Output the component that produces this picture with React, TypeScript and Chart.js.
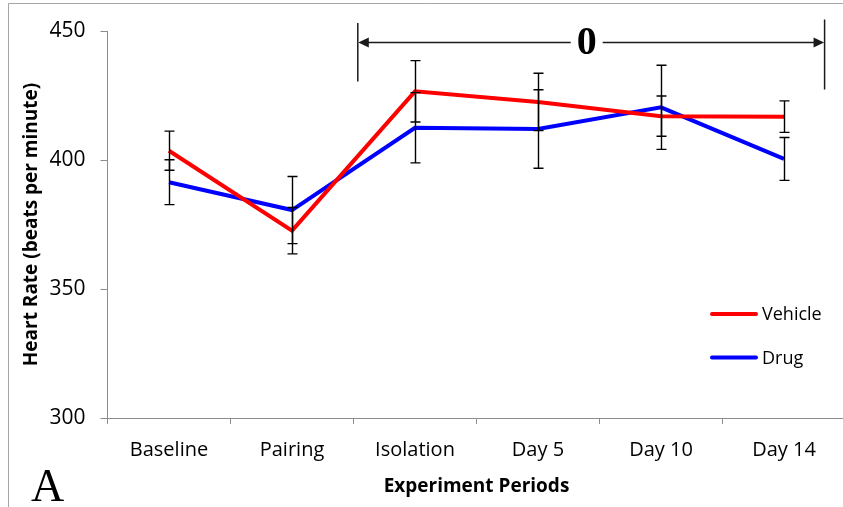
import { useEffect, useRef } from "react";
import { Chart, registerables } from "chart.js";

Chart.register(...registerables);

// ---- data ----
const categories = ["Baseline", "Pairing", "Isolation", "Day 5", "Day 10", "Day 14"];
const vehicleValues = [403.6, 372.6, 426.6, 422.5, 417.0, 416.8];
const drugValues = [391.4, 380.6, 412.5, 412.0, 420.4, 400.4];
const vehicleErrors = [7.6, 9.0, 11.9, 11.1, 7.8, 6.1];
const drugErrors = [8.7, 13.0, 13.6, 15.2, 16.3, 8.3];
const yMin = 300;
const yMax = 450;
const yStep = 50;
const seriesNames = ["Vehicle", "Drug"];
const yAxisTitle = "Heart Rate (beats per minute)";
const xAxisTitle = "Experiment Periods";
const bracketLabel = "0";
const panelLabel = "A";
// bracket spans (category index units) and height (value units)
const bracketStart = 1.535;
const bracketEnd = 5.33;
const bracketLabelAt = 3.396;
const bracketValue = 445.7;

const SANS = "'Open Sans', 'Noto Sans', sans-serif";
const SERIF = "'Liberation Serif', 'DejaVu Serif', serif";
const AXIS_GRAY = "#8c8c8c";

const errorBarPlugin = {
  id: "errorBars",
  afterDatasetsDraw(chart: any) {
    const { ctx } = chart;
    const xs = chart.scales.x;
    const ys = chart.scales.y;
    ctx.save();
    ctx.strokeStyle = "#000";
    ctx.lineWidth = 1.4;
    chart.data.datasets.forEach((ds: any) => {
      const errs: number[] = ds.errors || [];
      ds.data.forEach((v: number, i: number) => {
        const e = errs[i];
        if (e == null) return;
        const x = Math.round(xs.getPixelForValue(i)) + 0.5;
        const yt = ys.getPixelForValue(v + e);
        const yb = ys.getPixelForValue(v - e);
        ctx.beginPath();
        ctx.moveTo(x, yt);
        ctx.lineTo(x, yb);
        ctx.moveTo(x - 5, yt);
        ctx.lineTo(x + 5, yt);
        ctx.moveTo(x - 5, yb);
        ctx.lineTo(x + 5, yb);
        ctx.stroke();
      });
    });
    ctx.restore();
  },
};

const decorPlugin = {
  id: "decor",
  beforeDraw(chart: any) {
    const { ctx, width, height } = chart;
    ctx.save();
    ctx.fillStyle = "#fff";
    ctx.fillRect(0, 0, width, height);
    ctx.strokeStyle = "#a6a6a6";
    ctx.lineWidth = 1;
    ctx.beginPath();
    ctx.moveTo(8.5, height);
    ctx.lineTo(8.5, 3.5);
    ctx.lineTo(width, 3.5);
    ctx.stroke();
    ctx.restore();
  },
  afterDraw(chart: any) {
    const { ctx } = chart;
    const xs = chart.scales.x;
    const ys = chart.scales.y;
    ctx.save();

    // bracket with arrows and label
    const x1 = xs.getPixelForValue(bracketStart);
    const x2 = xs.getPixelForValue(bracketEnd);
    const xl = xs.getPixelForValue(bracketLabelAt);
    const y = Math.round(ys.getPixelForValue(bracketValue)) + 0.5;
    ctx.font = `bold 40px ${SERIF}`;
    const tw = ctx.measureText(bracketLabel).width;
    const gap = tw / 2 + 6;
    ctx.strokeStyle = "#1a1a1a";
    ctx.fillStyle = "#1a1a1a";
    ctx.lineWidth = 1.5;
    ctx.beginPath();
    ctx.moveTo(x1 + 8, y);
    ctx.lineTo(xl - gap, y);
    ctx.moveTo(xl + gap, y);
    ctx.lineTo(x2 - 8, y);
    ctx.moveTo(x1, y - 19.5);
    ctx.lineTo(x1, y + 39);
    ctx.moveTo(x2, y - 23);
    ctx.lineTo(x2, y + 47);
    ctx.stroke();
    ctx.beginPath();
    ctx.moveTo(x1 + 0.5, y);
    ctx.lineTo(x1 + 11, y - 5);
    ctx.lineTo(x1 + 11, y + 5);
    ctx.closePath();
    ctx.fill();
    ctx.beginPath();
    ctx.moveTo(x2 - 0.5, y);
    ctx.lineTo(x2 - 11, y - 5);
    ctx.lineTo(x2 - 11, y + 5);
    ctx.closePath();
    ctx.fill();
    ctx.fillStyle = "#000";
    ctx.textAlign = "center";
    ctx.textBaseline = "middle";
    ctx.fillText(bracketLabel, xl, y + 1);

    // legend
    const lx = 710;
    const rows = [314, 357.5];
    chart.data.datasets.forEach((ds: any, i: number) => {
      const ry = rows[i];
      ctx.strokeStyle = ds.borderColor;
      ctx.lineWidth = 4;
      ctx.lineCap = "round";
      ctx.beginPath();
      ctx.moveTo(lx + 2, ry);
      ctx.lineTo(lx + 46, ry);
      ctx.stroke();
      ctx.fillStyle = "#000";
      ctx.font = `18px ${SANS}`;
      ctx.textAlign = "left";
      ctx.textBaseline = "middle";
      ctx.fillText(ds.label, lx + 52, ry + 1);
    });

    // panel letter
    ctx.font = `46px ${SERIF}`;
    ctx.textAlign = "left";
    ctx.textBaseline = "alphabetic";
    ctx.fillStyle = "#000";
    ctx.fillText(panelLabel, 31, 501);
    ctx.restore();
  },
};

export default function App() {
  const canvasRef = useRef<HTMLCanvasElement | null>(null);

  useEffect(() => {
    if (!canvasRef.current) return;
    const chart = new Chart(canvasRef.current, {
      type: "line",
      data: {
        labels: categories,
        datasets: [
          {
            label: seriesNames[0],
            data: vehicleValues,
            errors: vehicleErrors,
            borderColor: "#ff0000",
            backgroundColor: "#ff0000",
            borderWidth: 4,
            pointRadius: 0,
            tension: 0,
            fill: false,
          } as any,
          {
            label: seriesNames[1],
            data: drugValues,
            errors: drugErrors,
            borderColor: "#0000ff",
            backgroundColor: "#0000ff",
            borderWidth: 4,
            pointRadius: 0,
            tension: 0,
            fill: false,
          } as any,
        ],
      },
      options: {
        responsive: false,
        animation: false,
        devicePixelRatio: 1,
        layout: { padding: { left: 0, top: 31, right: 4.5, bottom: 0 } },
        plugins: {
          legend: { display: false },
          tooltip: { enabled: false },
        },
        scales: {
          x: {
            type: "category",
            offset: true,
            grid: {
              offset: true,
              drawOnChartArea: false,
              drawTicks: true,
              tickLength: 6,
              color: AXIS_GRAY,
            },
            border: { display: true, color: AXIS_GRAY, width: 1 },
            ticks: {
              color: "#000",
              font: { family: SANS, size: 20 },
              padding: 14,
              maxRotation: 0,
              autoSkip: false,
            },
            title: {
              display: true,
              text: xAxisTitle,
              color: "#000",
              font: { family: SANS, size: 19, weight: "bold" },
              padding: { top: 0, bottom: 8.6 },
            },
            afterFit(scale: any) {
              scale.height = 89;
            },
          },
          y: {
            min: yMin,
            max: yMax,
            ticks: {
              stepSize: yStep,
              color: "#000",
              font: { family: SANS, size: 21 },
              padding: 15,
            },
            grid: {
              drawOnChartArea: false,
              drawTicks: true,
              tickLength: 7,
              color: AXIS_GRAY,
            },
            border: { display: true, color: AXIS_GRAY, width: 1 },
            title: {
              display: true,
              text: yAxisTitle,
              color: "#000",
              font: { family: SANS, size: 19, weight: "bold" },
              padding: { top: 20.6, bottom: 0 },
            },
            afterFit(scale: any) {
              scale.width = 107.5;
            },
          },
        },
      } as any,
      plugins: [decorPlugin, errorBarPlugin],
    });
    return () => chart.destroy();
  }, []);

  return (
    <div
      style={{
        position: "absolute",
        left: 0,
        top: 0,
        width: 843,
        height: 507,
        overflow: "hidden",
        background: "#fff",
      }}
    >
      <canvas ref={canvasRef} width={850} height={507} style={{ display: "block" }} />
    </div>
  );
}
